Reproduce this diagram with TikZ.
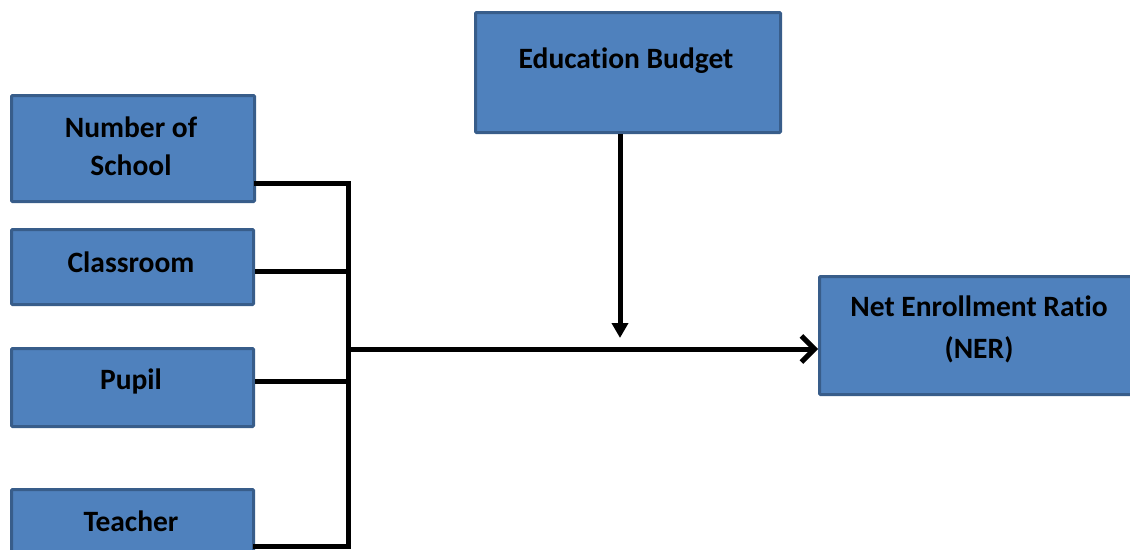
\documentclass[tikz,border=0pt]{standalone}
\usepackage{fontspec}
\setmainfont[Ligatures=NoCommon]{Carlito}
\usetikzlibrary{arrows.meta}
\definecolor{boxfill}{HTML}{4F81BD}
\definecolor{boxline}{HTML}{385D8A}
\tikzset{
  box/.style={draw=boxline, fill=boxfill, line width=3pt, rounded corners=1pt,
    inner sep=0pt, anchor=north west},
  lbl/.style={font=\fontsize{29.5}{38}\selectfont\bfseries, align=center, inner sep=0pt},
  wire/.style={line width=5pt, black},
}
\begin{document}
\begin{tikzpicture}[x=1pt, y=-1pt]
\useasboundingbox (0,0) rectangle (1130,549);
\clip (0,0) rectangle (1130,549);

% input boxes on the left
\node[box, minimum width=243pt, minimum height=106pt] (nos) at (10,94) {};
\node[box, minimum width=242pt, minimum height=75pt] (cls) at (10,228) {};
\node[box, minimum width=242pt, minimum height=78pt] (pup) at (10,347) {};
\node[box, minimum width=242pt, minimum height=78pt] (tea) at (10,488) {};
% moderator and outcome
\node[box, minimum width=305pt, minimum height=120pt] (bud) at (474,11) {};
\node[box, minimum width=322pt, minimum height=118pt] (ner) at (818,275) {};

\node[lbl] (nosT) at (131,146) {Number of\\School};
\node[lbl] (clsT) at (131,262) {Classroom};
\node[lbl] (pupT) at (131,381) {Pupil};
\node[lbl] (teaT) at (131,521) {Teacher};
\node[lbl] (budT) at (626,61) {Education Budget};
\node[lbl, font=\fontsize{29.5}{42}\selectfont\bfseries] (nerT) at (979,329) {Net Enrollment Ratio\\(NER)};

% collecting bus
\coordinate (busTop) at (348,183);
\coordinate (busBot) at (348,546);
\coordinate (busMid) at (348,349);
\coordinate (join) at (620,338);

\draw[wire, line cap=rect] (nos.east |- busTop) -- (busTop) -- (busBot) -- (tea.east |- busBot);
\draw[wire] (cls.east |- 0,271) -- (348,271);
\draw[wire] (pup.east |- 0,381) -- (348,381);
\draw[wire, -{Straight Barb[length=13pt,width=26pt,line width=5pt]}] (busMid) -- (ner.west |- busMid);
\draw[wire, -{Triangle[length=15pt,width=16pt]}] (bud.south -| join) -- (join);
\end{tikzpicture}
\end{document}
